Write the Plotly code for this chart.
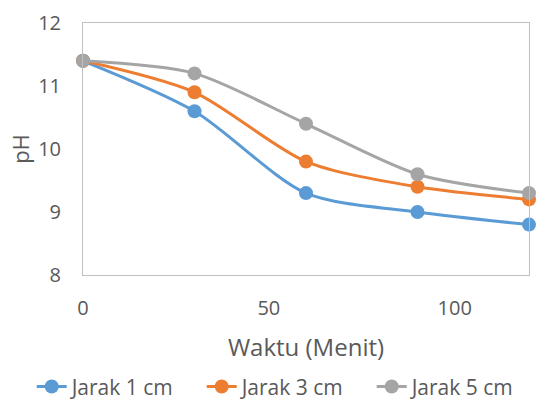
import plotly.graph_objects as go

waktu = [0, 30, 60, 90, 120]
ph_jarak_1 = [11.4, 10.6, 9.3, 9.0, 8.8]
ph_jarak_3 = [11.4, 10.9, 9.8, 9.4, 9.2]
ph_jarak_5 = [11.4, 11.2, 10.4, 9.6, 9.3]

series = [
    ("Jarak 1 cm", ph_jarak_1, "#5B9BD5"),
    ("Jarak 3 cm", ph_jarak_3, "#ED7D31"),
    ("Jarak 5 cm", ph_jarak_5, "#A5A5A5"),
]

text_color = "#595959"
font_family = "Open Sans, Liberation Sans, sans-serif"

fig = go.Figure()
for name, values, color in series:
    fig.add_trace(go.Scatter(
        x=waktu, y=values, name=name, mode="lines+markers",
        line=dict(color=color, width=3, shape="spline", smoothing=0.8),
        marker=dict(color=color, size=14),
        cliponaxis=False,
    ))

axis_common = dict(
    showline=True, linecolor="#BFBFBF", linewidth=1, mirror=True,
    showgrid=False, zeroline=False, ticks="", automargin=False,
    tickfont=dict(size=20, color=text_color, family=font_family),
)

fig.update_layout(
    width=548, height=401,
    margin=dict(l=83, r=19, t=23, b=126, autoexpand=False),
    paper_bgcolor="white", plot_bgcolor="white",
    font=dict(family=font_family, color=text_color),
    xaxis=dict(range=[0, 120], tickvals=[0, 50, 100], ticklabelstandoff=15,
               title=dict(text="Waktu (Menit)", font=dict(size=24, color=text_color), standoff=19),
               **axis_common),
    yaxis=dict(range=[8, 12], dtick=1, ticklabelstandoff=17,
               title=dict(text="pH", font=dict(size=22, color=text_color), standoff=2),
               **axis_common),
    legend=dict(orientation="h", x=-0.115, xanchor="left", y=-0.444, yanchor="middle",
                font=dict(size=21, color=text_color), entrywidth=125, entrywidthmode="pixels",
                itemwidth=30, tracegroupgap=0),
    showlegend=True,
)

fig.write_html("out.html")
